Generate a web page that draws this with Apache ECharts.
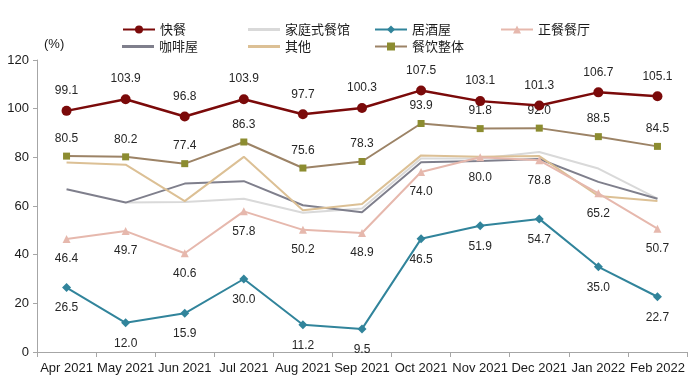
<!DOCTYPE html>
<html><head><meta charset="utf-8">
<script src="https://cdn.jsdelivr.net/npm/echarts@6/dist/echarts.min.js"></script>
<style>html,body{margin:0;padding:0;background:#fff}#c{width:700px;height:387px}</style>
</head><body><div id="c"></div>
<script>
const categories = ['Apr 2021','May 2021','Jun 2021','Jul 2021','Aug 2021','Sep 2021','Oct 2021','Nov 2021','Dec 2021','Jan 2022','Feb 2022'];
const kuaican = [99.1,103.9,96.8,103.9,97.7,100.3,107.5,103.1,101.3,106.7,105.1];
const jiating = [null,61.4,61.6,63.0,57.2,59.0,79.5,79.5,82.2,75.4,63.0];
const jujiuwu = [26.5,12.0,15.9,30.0,11.2,9.5,46.5,51.9,54.7,35.0,22.7];
const zhengcan = [46.4,49.7,40.6,57.8,50.2,48.9,74.0,80.0,78.8,65.2,50.7];
const kafeiwu = [66.9,61.4,69.2,70.2,60.3,57.4,78.0,78.5,79.3,69.9,63.0];
const qita = [77.9,77.0,62.0,80.2,58.3,60.8,80.8,80.2,80.5,64.1,62.1];
const zhengti = [80.5,80.2,77.4,86.3,75.6,78.3,93.9,91.8,92.0,88.5,84.5];
const yTicks = [0,20,40,60,80,100,120];

const font = '"Liberation Sans", Arial, sans-serif';
const lbl = (pos, dist) => ({show:true, position:pos, distance:dist, color:'#262626', fontSize:12, fontFamily:font, formatter:p=>p.value==null?'':p.value.toFixed(1)});

const lineIcon = 'path://M0,0 L32,0 L32,3 L0,3 Z';
const legendText = {fontSize:13, color:'#1a1a1a', fontFamily:'"Noto Sans CJK SC", sans-serif'};
const legendItems = [
  {name:'快餐', left:122, top:23},
  {name:'家庭式餐馆', left:248, top:23, icon:lineIcon},
  {name:'居酒屋', left:374, top:23},
  {name:'正餐餐厅', left:500, top:23},
  {name:'咖啡屋', left:122, top:40, icon:lineIcon},
  {name:'其他', left:248, top:40, icon:lineIcon},
  {name:'餐饮整体', left:374, top:40}
];
const legends = legendItems.map(it => ({
  data:[it.icon ? {name:it.name, icon:it.icon} : {name:it.name}],
  left:it.left, top:it.top, itemWidth:32, itemHeight:10, itemGap:0, padding:0, textStyle:legendText
}));

const chart = echarts.init(document.getElementById('c'));
chart.setOption({
  animation:false,
  legend:legends,
  grid:{left:37, right:13, top:60, bottom:35},
  xAxis:{type:'category', data:categories, boundaryGap:true,
    axisLine:{lineStyle:{color:'#a6a6a6', width:1}},
    axisTick:{show:true, length:5, lineStyle:{color:'#a6a6a6'}},
    axisLabel:{color:'#1a1a1a', fontSize:13, fontFamily:font, margin:10, interval:0}},
  yAxis:{type:'value', min:0, max:120, interval:20,
    axisLine:{show:true, lineStyle:{color:'#a6a6a6'}},
    axisTick:{show:true, length:4, lineStyle:{color:'#a6a6a6'}},
    splitLine:{show:false},
    axisLabel:{color:'#1a1a1a', fontSize:13, fontFamily:font, margin:8, formatter:v=>yTicks.includes(v)?String(v):''}},
  graphic:[{type:'text', left:44, top:38, style:{text:'(%)', fontSize:13, fill:'#1a1a1a', fontFamily:font}}],
  series:[
    {name:'家庭式餐馆', type:'line', data:jiating, symbol:'none', lineStyle:{color:'#d9d9d9', width:2}, itemStyle:{color:'#d9d9d9'}, z:2},
    {name:'咖啡屋', type:'line', data:kafeiwu, symbol:'none', lineStyle:{color:'#7f7f8c', width:2}, itemStyle:{color:'#7f7f8c'}, z:2},
    {name:'其他', type:'line', data:qita, symbol:'none', lineStyle:{color:'#dcc095', width:2}, itemStyle:{color:'#dcc095'}, z:3},
    {name:'正餐餐厅', type:'line', data:zhengcan, symbol:'triangle', symbolSize:8, lineStyle:{color:'#e6b8ad', width:2}, itemStyle:{color:'#e6b8ad'}, label:lbl('bottom',10), z:4},
    {name:'居酒屋', type:'line', data:jujiuwu, symbol:'diamond', symbolSize:9, lineStyle:{color:'#31849b', width:2}, itemStyle:{color:'#31849b'}, label:lbl('bottom',10), z:5},
    {name:'餐饮整体', type:'line', data:zhengti, symbol:'rect', symbolSize:7, lineStyle:{color:'#9c8366', width:2}, itemStyle:{color:'#8c8c30'}, label:lbl('top',8), z:5},
    {name:'快餐', type:'line', data:kuaican, symbol:'circle', symbolSize:10, lineStyle:{color:'#7b0a0a', width:2.5}, itemStyle:{color:'#7b0a0a'}, label:lbl('top',9), z:6}
  ]
});
</script></body></html>
